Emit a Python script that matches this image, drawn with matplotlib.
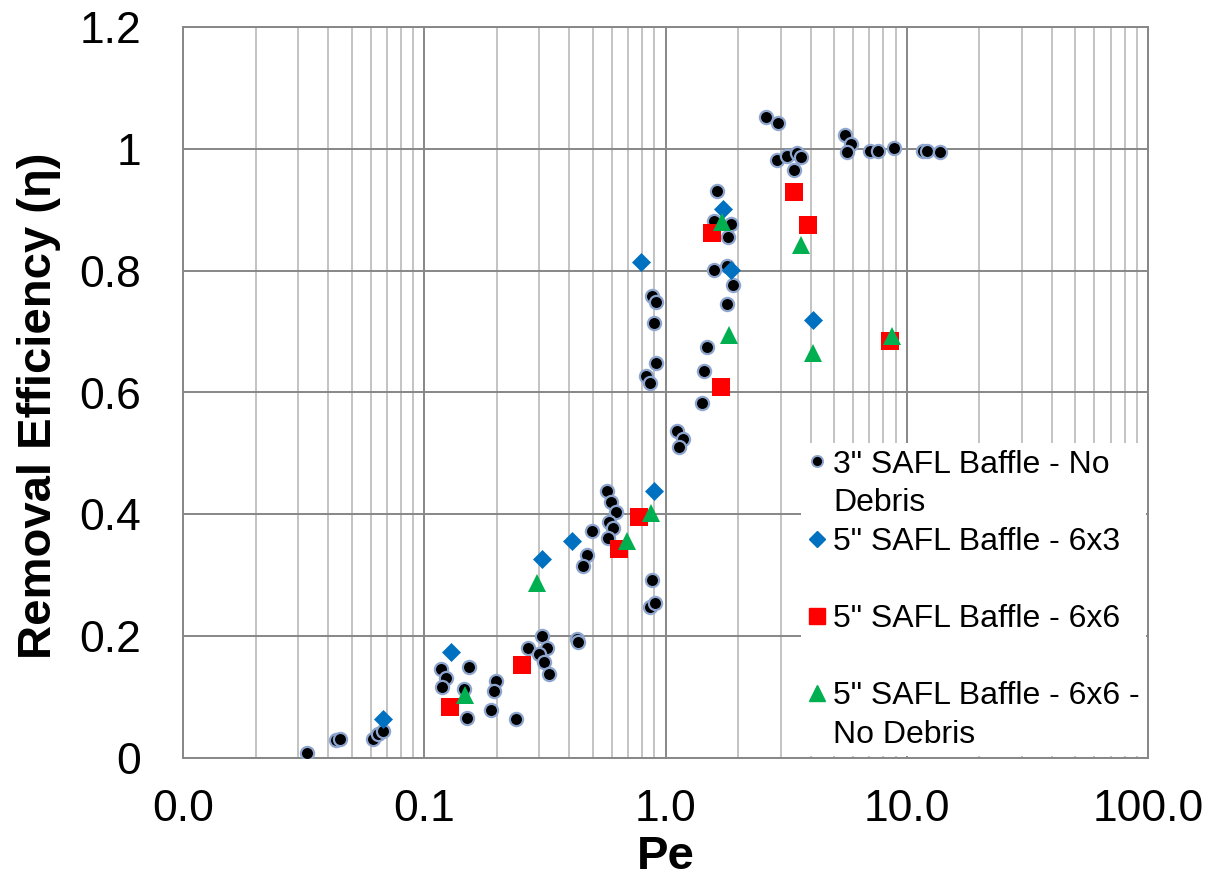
import matplotlib
matplotlib.use("Agg")
import matplotlib.pyplot as plt
from matplotlib.lines import Line2D
from matplotlib.ticker import FixedLocator, FixedFormatter, LogLocator, NullFormatter

plt.rcParams['font.family'] = ['Liberation Sans', 'DejaVu Sans']

# --- data ---
pe_3in = [0.0326, 0.0430, 0.0448, 0.0611, 0.0646, 0.0673, 0.1178, 0.123, 0.119, 0.1538,
          0.1467, 0.150, 0.198, 0.194, 0.189, 0.239, 0.3086, 0.270, 0.3216, 0.2999,
          0.3147, 0.328, 0.4286, 0.432, 0.495, 0.471, 0.454, 0.570, 0.593, 0.623,
          0.585, 0.608, 0.580, 0.879, 0.864, 0.905, 0.880, 0.911, 0.893, 0.911,
          0.831, 0.863, 1.116, 1.178, 1.141, 1.416, 1.447, 1.479, 1.594, 1.793,
          1.91, 1.793, 1.638, 1.589, 1.868, 1.821, 2.61, 2.937, 2.905, 3.177,
          3.494, 3.63, 3.415, 5.546, 5.874, 5.67, 7.04, 7.58, 8.88, 11.7,
          12.15, 13.7]
eta_3in = [0.009, 0.030, 0.031, 0.032, 0.039, 0.044, 0.146, 0.132, 0.117, 0.149,
           0.114, 0.065, 0.127, 0.110, 0.078, 0.0645, 0.200, 0.181, 0.180, 0.171,
           0.157, 0.138, 0.196, 0.191, 0.372, 0.334, 0.316, 0.438, 0.420, 0.404,
           0.388, 0.377, 0.361, 0.292, 0.248, 0.254, 0.758, 0.749, 0.714, 0.649,
           0.627, 0.616, 0.537, 0.524, 0.510, 0.582, 0.635, 0.674, 0.801, 0.808,
           0.777, 0.745, 0.930, 0.881, 0.876, 0.856, 1.052, 1.042, 0.982, 0.988,
           0.993, 0.987, 0.965, 1.023, 1.008, 0.994, 0.997, 0.997, 1.001, 0.996,
           0.996, 0.994]

pe_6x3 = [0.0675, 0.1294, 0.3077, 0.4107, 0.893, 0.789, 1.725, 1.868, 4.07]
eta_6x3 = [0.0645, 0.174, 0.326, 0.356, 0.438, 0.815, 0.901, 0.801, 0.719]

pe_6x6 = [0.128, 0.255, 0.643, 0.776, 1.564, 1.702, 3.415, 3.903, 8.55]
eta_6x6 = [0.083, 0.153, 0.343, 0.396, 0.862, 0.609, 0.929, 0.875, 0.685]

pe_6x6nd = [0.1475, 0.292, 0.694, 0.871, 1.72, 1.837, 3.653, 4.07, 8.71]
eta_6x6nd = [0.104, 0.287, 0.356, 0.402, 0.880, 0.694, 0.842, 0.665, 0.693]

labels = ['3" SAFL Baffle - No\nDebris', '5" SAFL Baffle - 6x3',
          '5" SAFL Baffle - 6x6', '5" SAFL Baffle - 6x6 -\nNo Debris']

x_ticks = [0.01, 0.1, 1, 10, 100]
x_ticklabels = ['0.0', '0.1', '1.0', '10.0', '100.0']
y_ticks = [0, 0.2, 0.4, 0.6, 0.8, 1.0, 1.2]
y_ticklabels = ['0', '0.2', '0.4', '0.6', '0.8', '1', '1.2']

# --- figure ---
fig = plt.figure(figsize=(12.21, 8.96), dpi=100)
ax = fig.add_axes([183/1221, 1 - 758/896, (1148-183)/1221, (758-27)/896])

major_c = '#878787'
minor_c = '#c3c3c3'

ax.set_xscale('log')
ax.set_xlim(0.01, 100)
ax.set_ylim(0, 1.2)

ax.xaxis.set_major_locator(FixedLocator(x_ticks))
ax.xaxis.set_major_formatter(FixedFormatter(x_ticklabels))
ax.xaxis.set_minor_locator(LogLocator(base=10, subs=range(2, 10)))
ax.xaxis.set_minor_formatter(NullFormatter())
ax.yaxis.set_major_locator(FixedLocator(y_ticks))
ax.yaxis.set_major_formatter(FixedFormatter(y_ticklabels))

ax.grid(True, which='minor', axis='x', color=minor_c, lw=1.4)
ax.grid(True, which='major', axis='x', color=major_c, lw=1.4)
ax.grid(True, which='major', axis='y', color=major_c, lw=1.4)
ax.set_axisbelow(True)
for s in ax.spines.values():
    s.set_color(major_c)
    s.set_linewidth(1.4)

ax.tick_params(axis='both', which='both', length=0)
ax.tick_params(axis='y', labelsize=32, pad=30)
ax.tick_params(axis='x', labelsize=32, pad=22)

h1, = ax.plot(pe_3in, eta_3in, 'o', ms=9.5, mfc='black', mec='#8ea6cf', mew=1.6,
              ls='none', zorder=3)
h2, = ax.plot(pe_6x3, eta_6x3, 'D', ms=8.8, mfc='#0070c0', mec='#0070c0', mew=0.5,
              ls='none', zorder=4)
h3, = ax.plot(pe_6x6, eta_6x6, 's', ms=13.5, mfc='#ff0000', mec='#ff0000', mew=0,
              ls='none', zorder=4)
h4, = ax.plot(pe_6x6nd, eta_6x6nd, '^', ms=13.5, mfc='#00b050', mec='#00b050', mew=0,
              ls='none', zorder=5)

ax.set_xlabel('Pe', fontsize=34, fontweight='bold', labelpad=4)
ax.set_ylabel('Removal Efficiency (\u03b7)', fontsize=34, fontweight='bold')
ax.yaxis.set_label_coords(-0.126, 0.4815)

# legend: marker aligned with first line of each label
blank = Line2D([], [], ls='none', marker='None')
lh1 = Line2D([], [], ls='none', marker='o', ms=8, mfc='black', mec='#8ea6cf', mew=1.4)
lh2 = Line2D([], [], ls='none', marker='D', ms=8, mfc='#0070c0', mec='#0070c0')
lh3 = Line2D([], [], ls='none', marker='s', ms=12, mfc='#ff0000', mec='#ff0000')
lh4 = Line2D([], [], ls='none', marker='^', ms=12, mfc='#00b050', mec='#00b050')
leg_handles = []
leg_labels = []
for hnd, lab in zip([lh1, lh2, lh3, lh4], labels):
    parts = lab.split('\n')
    leg_handles.append(hnd)
    leg_labels.append(parts[0])
    leg_handles.append(blank)
    leg_labels.append(parts[1] if len(parts) > 1 else ' ')

leg = ax.legend(leg_handles, leg_labels, loc='lower right', bbox_to_anchor=(1.0, 0.0),
                borderaxespad=0.05, fontsize=23, frameon=True, fancybox=False,
                framealpha=1, facecolor='white', edgecolor='none',
                handlelength=0.6, handletextpad=0.2, labelspacing=0.27,
                borderpad=0.2)
leg.set_zorder(10)

fig.savefig('out.png', dpi=100)
